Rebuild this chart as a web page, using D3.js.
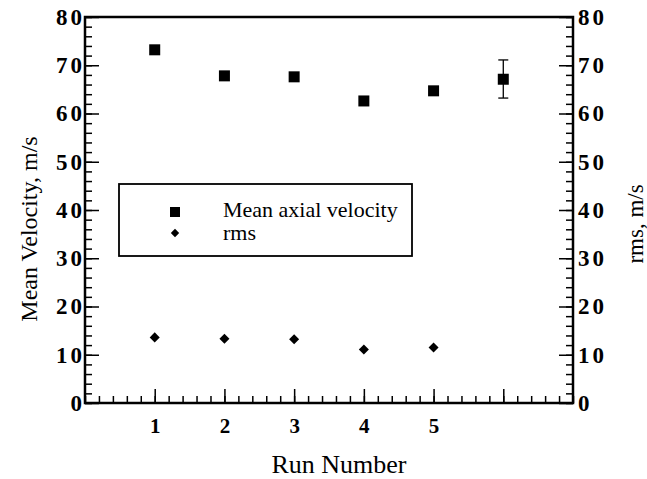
<!DOCTYPE html>
<html>
<head>
<meta charset="utf-8">
<script src="https://cdn.jsdelivr.net/npm/d3@7"></script>
<style>
  body { margin: 0; background: #fff; }
  svg { font-family: "Liberation Serif", "Times New Roman", serif; }
  .tick text { font-family: "Liberation Serif", "Times New Roman", serif;
    font-weight: bold; font-size: 23px; letter-spacing: 3px; fill: #000; }
  .xax .tick text { font-size: 21px; letter-spacing: 0; }
  .domain { display: none; }
  .tick line { stroke: #000; stroke-width: 1.5; }
</style>
</head>
<body>
<div id="chart"></div>
<script>
// data
var runs = [1, 2, 3, 4, 5];
var meanVel = [73.2, 67.8, 67.6, 62.6, 64.7];
var rmsVel = [13.6, 13.3, 13.2, 11.1, 11.5];
var avgRun = [6];
var avgMean = [67.1];
var avgLow = [63.2];
var avgHigh = [71.1];
var yTicks = [0, 10, 20, 30, 40, 50, 60, 70, 80];
var xTicks = [1, 2, 3, 4, 5, 6];
var xLabels = ["1", "2", "3", "4", "5", ""];

var margin = {top: 17, right: 74, bottom: 76, left: 85},
    width = 647 - margin.left - margin.right,
    height = 479 - margin.top - margin.bottom;

var x = d3.scaleLinear().domain([0, 7]).range([0, width]);
var y = d3.scaleLinear().domain([0, 80]).range([height, 0]);

var svg = d3.select("#chart").append("svg")
    .attr("width", 647)
    .attr("height", 479)
  .append("g")
    .attr("transform", "translate(" + margin.left + "," + margin.top + ")");

// minor ticks
var minorY = d3.range(0, 80.1, 2);
var minorX = d3.range(0, 7.01, 0.2);

svg.append("g")
    .call(d3.axisLeft(y).tickValues(minorY).tickSize(-7).tickFormat(""));
svg.append("g")
    .attr("transform", "translate(" + width + ",0)")
    .call(d3.axisRight(y).tickValues(minorY).tickSize(-7).tickFormat(""));
svg.append("g")
    .attr("transform", "translate(0," + height + ")")
    .call(d3.axisBottom(x).tickValues(minorX).tickSize(-7).tickFormat(""));

// major ticks + labels
svg.append("g")
    .call(d3.axisLeft(y).tickValues(yTicks).tickSize(-14).tickPadding(0));
svg.append("g")
    .attr("transform", "translate(" + width + ",0)")
    .call(d3.axisRight(y).tickValues(yTicks).tickSize(-14).tickPadding(5));
svg.append("g")
    .attr("class", "xax")
    .attr("transform", "translate(0," + height + ")")
    .call(d3.axisBottom(x).tickValues(xTicks).tickSize(-14).tickPadding(15)
      .tickFormat(function(d, i) { return xLabels[i]; }));

// frame
svg.append("rect")
    .attr("width", width)
    .attr("height", height)
    .attr("fill", "none")
    .attr("stroke", "#000")
    .attr("stroke-width", 2.5);

// error bar point
svg.selectAll(".ebar")
    .data(avgRun)
  .enter().append("g")
    .each(function(d, i) {
      var g = d3.select(this);
      g.append("line")
          .attr("x1", x(d)).attr("x2", x(d))
          .attr("y1", y(avgLow[i])).attr("y2", y(avgHigh[i]))
          .attr("stroke", "#000").attr("stroke-width", 1.3);
      [avgLow[i], avgHigh[i]].forEach(function(v) {
        g.append("line")
            .attr("x1", x(d) - 5).attr("x2", x(d) + 5)
            .attr("y1", y(v)).attr("y2", y(v))
            .attr("stroke", "#000").attr("stroke-width", 1.3);
      });
      g.append("rect")
          .attr("x", x(d) - 5.5).attr("y", y(avgMean[i]) - 5.5)
          .attr("width", 11).attr("height", 11)
          .attr("fill", "#000");
    });

// mean velocity squares
svg.selectAll(".mean")
    .data(runs)
  .enter().append("rect")
    .attr("x", function(d) { return x(d) - 5.5; })
    .attr("y", function(d, i) { return y(meanVel[i]) - 5.5; })
    .attr("width", 11)
    .attr("height", 11)
    .attr("fill", "#000");

// rms diamonds
var diamond = d3.symbol().type(d3.symbolDiamond2).size(64);
svg.selectAll(".rms")
    .data(runs)
  .enter().append("path")
    .attr("transform", function(d, i) { return "translate(" + x(d) + "," + y(rmsVel[i]) + ")"; })
    .attr("d", diamond)
    .attr("fill", "#000");

// legend
var leg = svg.append("g").attr("transform", "translate(34,167)");
leg.append("rect")
    .attr("width", 293)
    .attr("height", 72)
    .attr("fill", "#fff")
    .attr("stroke", "#000")
    .attr("stroke-width", 1.8);
leg.append("rect")
    .attr("x", 51).attr("y", 23)
    .attr("width", 10).attr("height", 10)
    .attr("fill", "#000");
leg.append("path")
    .attr("transform", "translate(56,49)")
    .attr("d", d3.symbol().type(d3.symbolDiamond2).size(45))
    .attr("fill", "#000");
leg.append("text")
    .attr("x", 104).attr("y", 33)
    .style("font-size", "22px")
    .text("Mean axial velocity");
leg.append("text")
    .attr("x", 104).attr("y", 56)
    .style("font-size", "22px")
    .text("rms");

// axis titles
svg.append("text")
    .attr("transform", "translate(-48," + (height / 2 + 19) + ") rotate(-90)")
    .attr("text-anchor", "middle")
    .style("font-size", "24px")
    .text("Mean Velocity, m/s");

svg.append("text")
    .attr("transform", "translate(" + (width + 70) + "," + (height / 2 + 14) + ") rotate(-90)")
    .attr("text-anchor", "middle")
    .style("font-size", "23px")
    .text("rms, m/s");

svg.append("text")
    .attr("x", 254)
    .attr("y", height + 70)
    .attr("text-anchor", "middle")
    .style("font-size", "26px")
    .text("Run Number");
</script>
</body>
</html>
